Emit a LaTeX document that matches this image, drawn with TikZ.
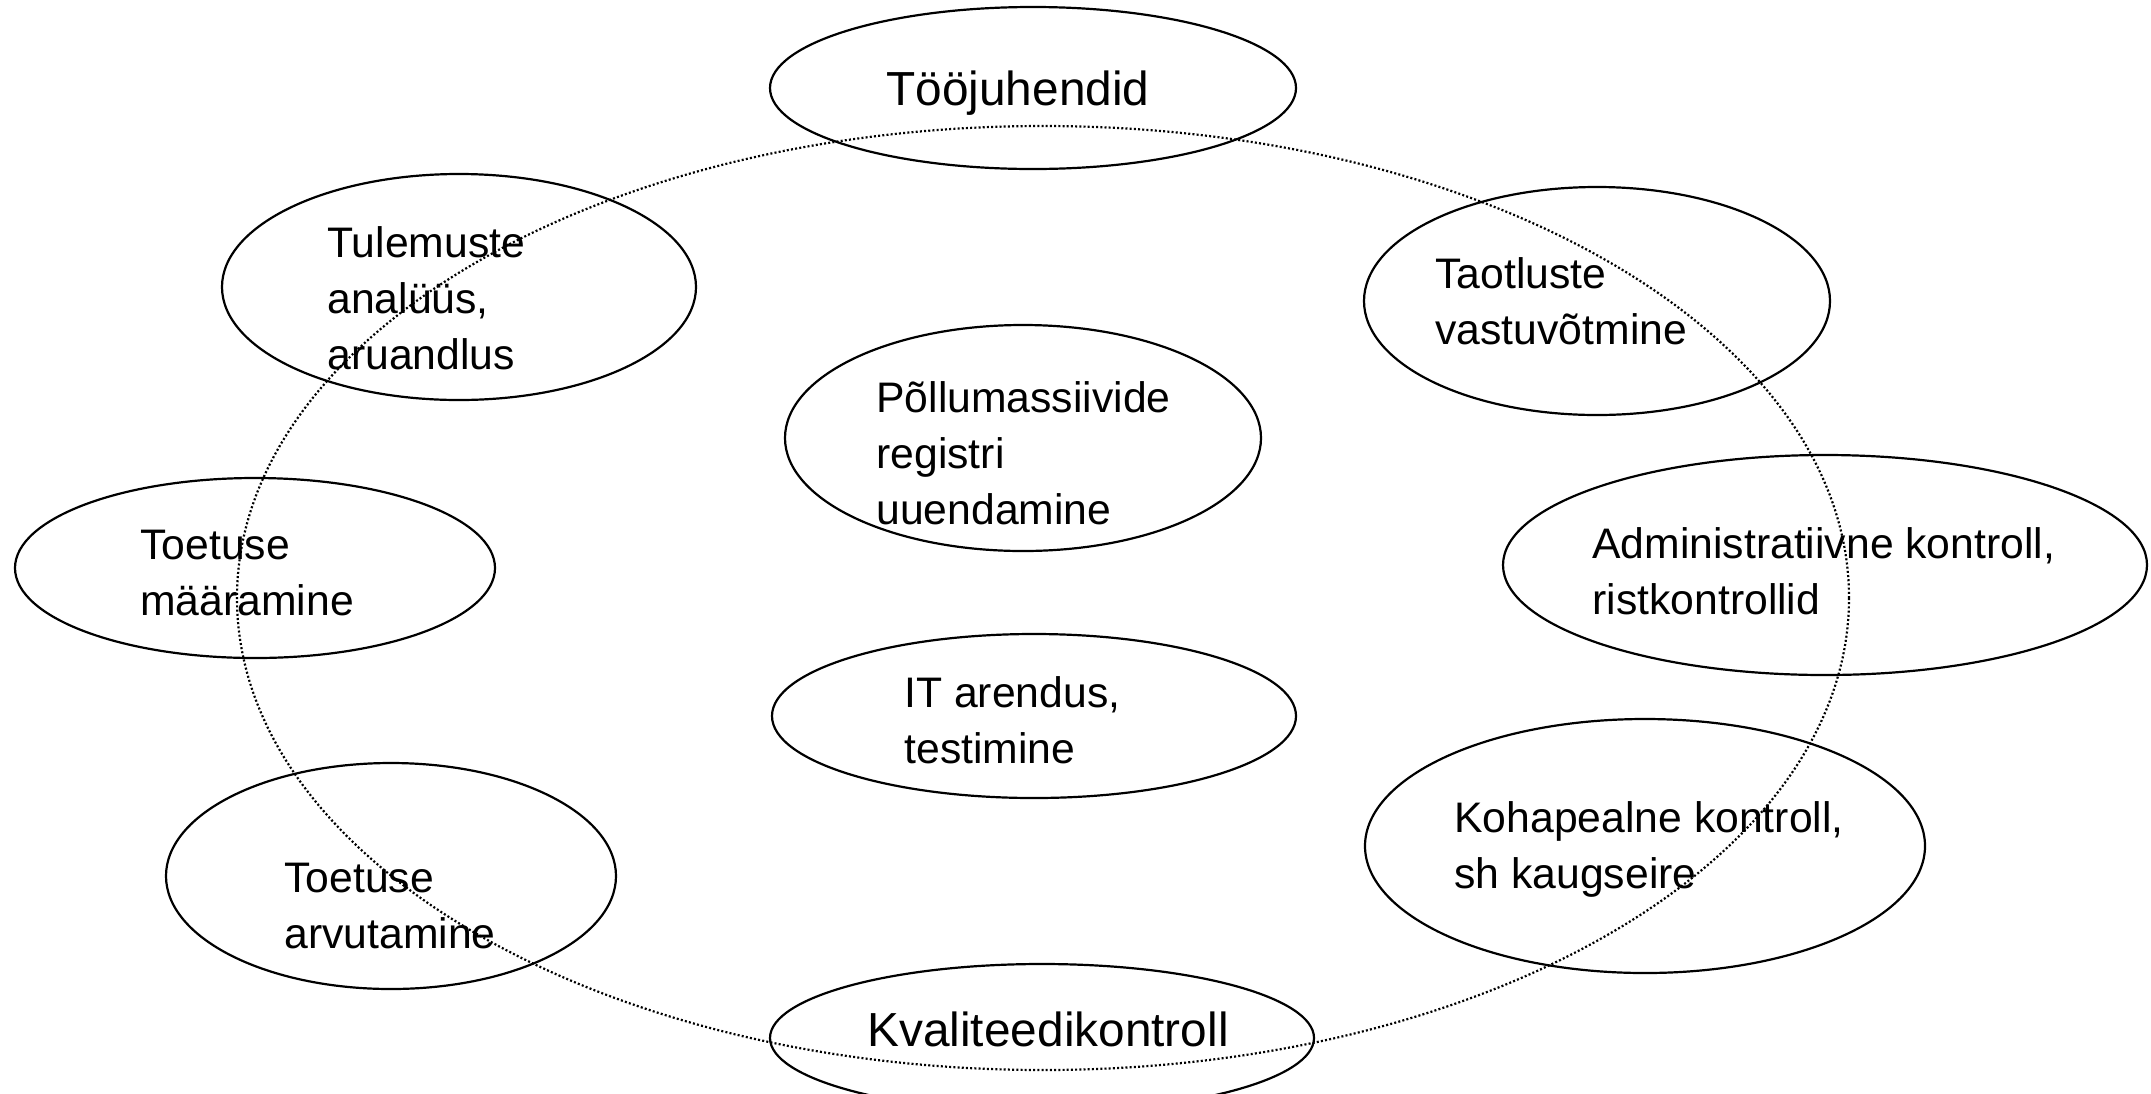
\documentclass[tikz,border=0pt]{standalone}
\usepackage{fontspec}
\setmainfont{Liberation Sans}
\usetikzlibrary{shapes.geometric}
\newcommand{\lines}[1]{\begin{tabular}[t]{@{}l@{}}#1\end{tabular}}
\begin{document}
\begin{tikzpicture}[x=0.5pt,y=-0.5pt,
  oval/.style={draw=black, line width=1.1pt, ellipse, inner sep=0pt, outer sep=0pt},
  ring/.style={draw=black, line width=1.1pt, dash pattern=on 1pt off 1.1pt, ellipse, inner sep=0pt, outer sep=0pt},
  lbl/.style={anchor=base west, inner sep=0pt, font=\fontsize{21.35}{28}\selectfont},
  ttl/.style={anchor=base west, inner sep=0pt, font=\fontsize{23.9}{28}\selectfont}]
\fill[white] (0,0) rectangle (2151,1093);
\useasboundingbox (0,0) rectangle (2151,1093);
% big dotted cycle
\node[ring, minimum width=806pt, minimum height=472pt] (cycle) at (1043,598) {};
% process ellipses
\node[oval, minimum width=263pt, minimum height=81pt]  (too) at (1033,88)  {};
\node[oval, minimum width=237pt, minimum height=113pt] (tul) at (459,287)  {};
\node[oval, minimum width=233pt, minimum height=114pt] (tao) at (1597,301) {};
\node[oval, minimum width=238pt, minimum height=113pt] (pol) at (1023,438) {};
\node[oval, minimum width=240pt, minimum height=90pt]  (maa) at (255,568)  {};
\node[oval, minimum width=322pt, minimum height=110pt] (adm) at (1825,565) {};
\node[oval, minimum width=262pt, minimum height=82pt]  (itd) at (1034,716) {};
\node[oval, minimum width=280pt, minimum height=127pt] (koh) at (1645,846) {};
\node[oval, minimum width=225pt, minimum height=113pt] (arv) at (391,876)  {};
\node[oval, minimum width=272pt, minimum height=74pt]  (kva) at (1042,1038) {};
% labels
\node[ttl] (tooT) at (886,105)  {Tööjuhendid};
\node[ttl] (kvaT) at (867,1046) {Kvaliteedikontroll};
\node[lbl] (tulT) at (327,257)  {\lines{Tulemuste\\analüüs,\\aruandlus}};
\node[lbl] (taoT) at (1435,288) {\lines{Taotluste\\vastuvõtmine}};
\node[lbl] (polT) at (876,412)  {\lines{Põllumassiivide\\registri\\uuendamine}};
\node[lbl] (maaT) at (140,559)  {\lines{Toetuse\\määramine}};
\node[lbl] (admT) at (1592,558) {\lines{Administratiivne kontroll,\\ristkontrollid}};
\node[lbl] (itdT) at (904,707)  {\lines{IT arendus,\\testimine}};
\node[lbl] (kohT) at (1454,832) {\lines{Kohapealne kontroll,\\sh kaugseire}};
\node[lbl] (arvT) at (284,892)  {\lines{Toetuse\\arvutamine}};
\end{tikzpicture}
\end{document}
